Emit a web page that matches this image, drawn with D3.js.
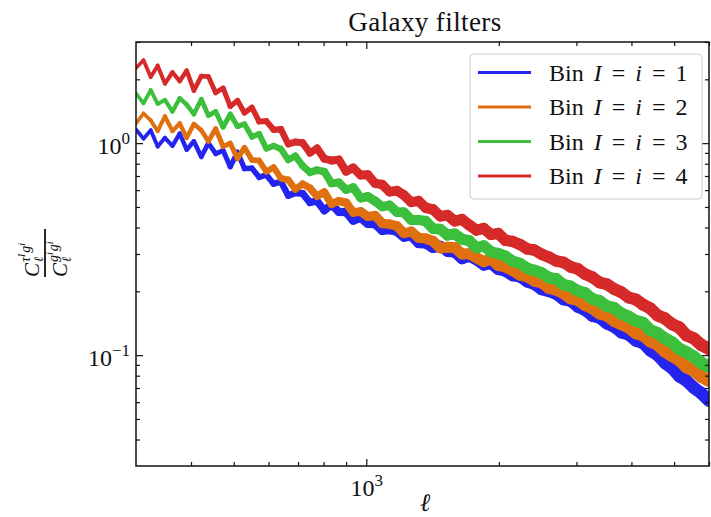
<!DOCTYPE html>
<html lang="en">
<head>
<meta charset="UTF-8">
<script src="https://cdn.jsdelivr.net/npm/d3@7"></script>
<title>Galaxy filters</title>
<style>
  body { margin: 0; background: #fff; }
  svg text { font-family: "Liberation Serif", "DejaVu Serif", serif; fill: #111; }
</style>
</head>
<body>
<svg id="chart" width="711" height="517"></svg>
<script>
// multipoles (log-spaced)
var ell = [300, 312, 324, 336, 349, 363, 377, 391, 406, 422, 438, 455, 473, 491, 510, 529,
  550, 571, 593, 616, 640, 665, 690, 717, 745, 773, 803, 834, 866, 900, 934, 971, 1008,
  1047, 1087, 1129, 1173, 1218, 1265, 1314, 1365, 1417, 1472, 1529, 1588, 1649, 1713,
  1779, 1848, 1919, 1993, 2070, 2150, 2233, 2319, 2409, 2502, 2598, 2699, 2803, 2911,
  3023, 3140, 3261, 3387, 3518, 3654, 3795, 3941, 4093, 4251, 4415, 4586, 4763, 4947,
  5138, 5336, 5542, 5756, 6000];

var bin1 = [1.16, 1.05, 1.15, 0.964, 1.06, 0.971, 1.11, 0.931, 1.02, 0.862, 1.00, 0.892,
  0.924, 0.774, 0.906, 0.759, 0.762, 0.691, 0.708, 0.643, 0.658, 0.566, 0.583, 0.579,
  0.525, 0.533, 0.481, 0.513, 0.474, 0.473, 0.432, 0.446, 0.418, 0.417, 0.388, 0.391,
  0.385, 0.361, 0.367, 0.338, 0.337, 0.321, 0.327, 0.308, 0.306, 0.285, 0.293, 0.282,
  0.266, 0.271, 0.254, 0.249, 0.237, 0.234, 0.222, 0.216, 0.204, 0.200, 0.194, 0.183,
  0.180, 0.169, 0.163, 0.153, 0.150, 0.141, 0.136, 0.128, 0.125, 0.117, 0.114, 0.105,
  0.100, 0.0919, 0.0868, 0.0795, 0.0757, 0.0702, 0.0663, 0.0610];

var bin2 = [1.24, 1.38, 1.28, 1.14, 1.34, 1.14, 1.24, 1.06, 1.23, 1.15, 1.02, 1.17, 0.964,
  0.999, 0.846, 0.952, 0.833, 0.827, 0.734, 0.769, 0.683, 0.671, 0.606, 0.642, 0.613,
  0.562, 0.587, 0.516, 0.533, 0.524, 0.471, 0.476, 0.451, 0.456, 0.418, 0.415, 0.407,
  0.376, 0.383, 0.358, 0.355, 0.345, 0.320, 0.323, 0.322, 0.300, 0.301, 0.288, 0.276,
  0.285, 0.265, 0.261, 0.251, 0.239, 0.235, 0.224, 0.220, 0.207, 0.203, 0.196, 0.185,
  0.182, 0.172, 0.166, 0.157, 0.154, 0.145, 0.140, 0.135, 0.127, 0.124, 0.116, 0.112,
  0.104, 0.0991, 0.0945, 0.0876, 0.0849, 0.0793, 0.0758];

var bin3 = [1.72, 1.54, 1.78, 1.53, 1.60, 1.41, 1.63, 1.52, 1.37, 1.61, 1.35, 1.41, 1.19,
  1.37, 1.20, 1.23, 1.071, 1.106, 0.943, 0.970, 0.938, 0.834, 0.870, 0.782, 0.728, 0.746,
  0.733, 0.647, 0.652, 0.603, 0.618, 0.551, 0.560, 0.533, 0.502, 0.509, 0.473, 0.472,
  0.434, 0.434, 0.429, 0.395, 0.393, 0.368, 0.373, 0.352, 0.347, 0.321, 0.328, 0.307,
  0.302, 0.293, 0.277, 0.271, 0.257, 0.251, 0.244, 0.232, 0.229, 0.215, 0.211, 0.201,
  0.196, 0.184, 0.180, 0.170, 0.167, 0.157, 0.152, 0.145, 0.142, 0.131, 0.127, 0.120,
  0.115, 0.107, 0.103, 0.0983, 0.0920, 0.0883];

var bin4 = [2.26, 2.46, 2.05, 2.32, 1.91, 2.16, 1.96, 2.20, 1.77, 2.07, 2.06, 1.73, 1.82,
  1.49, 1.59, 1.39, 1.473, 1.265, 1.270, 1.156, 1.163, 0.990, 1.013, 1.004, 0.899, 0.946,
  0.844, 0.828, 0.836, 0.735, 0.765, 0.707, 0.709, 0.646, 0.638, 0.590, 0.597, 0.568,
  0.527, 0.534, 0.495, 0.487, 0.452, 0.457, 0.429, 0.437, 0.411, 0.389, 0.396, 0.371,
  0.375, 0.348, 0.344, 0.333, 0.317, 0.313, 0.299, 0.290, 0.278, 0.274, 0.261, 0.255,
  0.241, 0.233, 0.220, 0.216, 0.205, 0.198, 0.187, 0.183, 0.173, 0.166, 0.154, 0.149,
  0.140, 0.135, 0.124, 0.120, 0.112, 0.107];

var binLabels = ["1", "2", "3", "4"];
var binValues = [bin1, bin2, bin3, bin4];
var colors = ["#2424ee", "#e0700f", "#3cbf3c", "#d62a2a"];

var xMinor = [400, 500, 600, 700, 800, 900, 2000, 3000, 4000, 5000, 6000];
var xMajor = [1000];
var yMajor = [0.1, 1];
var yMinor = [0.04, 0.05, 0.06, 0.07, 0.08, 0.09, 0.2, 0.3, 0.4, 0.5, 0.6, 0.7, 0.8, 0.9, 2, 3];

var svg = d3.select("#chart");
var pL = 136, pR = 709, pT = 42, pB = 466;

var x = d3.scaleLog().domain([300, 6000]).range([pL, pR]);
var y = d3.scaleLog().domain([0.03, 3]).range([pB, pT]);

// the scatter band thickens toward high multipoles
var bandWidth = d3.scaleLog().domain([300, 550, 1000, 1600, 6000])
  .range([3.6, 5.5, 9, 11, 12.5]).clamp(true);

svg.append("defs").append("clipPath").attr("id", "plotclip")
  .append("rect").attr("x", pL).attr("y", pT)
  .attr("width", pR - pL).attr("height", pB - pT);

// curves, segment by segment so the stroke can widen with ell
var curves = svg.append("g").attr("clip-path", "url(#plotclip)");
binValues.forEach(function(vals, i) {
  var pts = ell.map(function(l, k) { return [l, vals[k]]; });
  curves.append("g").selectAll("line")
    .data(d3.pairs(pts))
    .join("line")
    .attr("x1", function(d) { return x(d[0][0]); })
    .attr("y1", function(d) { return y(d[0][1]); })
    .attr("x2", function(d) { return x(d[1][0]); })
    .attr("y2", function(d) { return y(d[1][1]); })
    .attr("stroke", colors[i])
    .attr("stroke-linecap", "round")
    .attr("stroke-width", function(d) { return bandWidth(Math.sqrt(d[0][0] * d[1][0])); });
});

// ticks point inward on all four sides
function axisGroup(axis, tx, ty) {
  var g = svg.append("g").attr("transform", "translate(" + tx + "," + ty + ")").call(axis);
  g.select(".domain").remove();
  g.selectAll("line").attr("stroke", "#111").attr("stroke-width", 1.2);
  return g;
}
axisGroup(d3.axisBottom(x).tickValues(xMinor).tickSize(-4).tickFormat(""), 0, pB);
axisGroup(d3.axisTop(x).tickValues(xMinor).tickSize(-4).tickFormat(""), 0, pT);
axisGroup(d3.axisTop(x).tickValues(xMajor).tickSize(-7).tickFormat(""), 0, pT);
axisGroup(d3.axisLeft(y).tickValues(yMinor).tickSize(-4).tickFormat(""), pL, 0);
axisGroup(d3.axisRight(y).tickValues(yMinor).tickSize(-4).tickFormat(""), pR, 0);
axisGroup(d3.axisRight(y).tickValues(yMajor).tickSize(-7).tickFormat(""), pR, 0);

function powLabel(t, p) {
  t.append("tspan").text("10");
  t.append("tspan").attr("font-size", 17).attr("dy", "-0.6em")
    .text(p < 0 ? "\u2212" + (-p) : p);
}

var xb = axisGroup(d3.axisBottom(x).tickValues(xMajor).tickSize(-7).tickPadding(13), 0, pB);
xb.selectAll("text").text(null).attr("font-size", 24)
  .each(function(d) { powLabel(d3.select(this), Math.round(Math.log10(d))); });

var yl = axisGroup(d3.axisLeft(y).tickValues(yMajor).tickSize(-7).tickPadding(6), pL, 0);
yl.selectAll("text").text(null).attr("font-size", 24).attr("dy", "0.42em")
  .each(function(d) { powLabel(d3.select(this), Math.round(Math.log10(d))); });

// frame
svg.append("rect").attr("x", pL).attr("y", pT)
  .attr("width", pR - pL).attr("height", pB - pT)
  .attr("fill", "none").attr("stroke", "#111").attr("stroke-width", 1.5);

// title and axis labels
svg.append("text").attr("x", 425).attr("y", 31).attr("text-anchor", "middle")
  .attr("font-size", 27).attr("letter-spacing", 0.4).text("Galaxy filters");

svg.append("text").attr("x", 425).attr("y", 511).attr("text-anchor", "middle")
  .attr("font-size", 25).attr("font-style", "italic").text("\u2113");

// y label: fraction of two spectra, rotated
var yLab = svg.append("g").attr("transform", "translate(45,253) rotate(-90)");
yLab.append("line").attr("x1", -24).attr("x2", 24).attr("y1", 0).attr("y2", 0)
  .attr("stroke", "#111").attr("stroke-width", 1.8);
function spectrum(g, base, sup) {
  g.append("text").attr("x", -24).attr("y", base).attr("font-size", 21)
    .attr("font-style", "italic").text("C");
  g.append("text").attr("x", -9).attr("y", base + 4).attr("font-size", 13)
    .attr("font-style", "italic").text("\u2113");
  var t = g.append("text").attr("x", -9).attr("y", base - 9).attr("font-size", 14)
    .attr("font-style", "italic");
  sup.forEach(function(p, k) {
    t.append("tspan").attr("dy", k ? 5 : 0).attr("dx", k ? 1 : 0).text(p[0]);
    t.append("tspan").attr("font-size", 10).attr("dy", -5).text(p[1]);
  });
}
spectrum(yLab, -6, [["\u03c4", "I"], ["g", "i"]]);
spectrum(yLab, 22, [["g", "i"], ["g", "i"]]);

// legend
var leg = svg.append("g");
leg.append("rect").attr("x", 470).attr("y", 54).attr("width", 232).attr("height", 145)
  .attr("rx", 4).attr("fill", "#fff").attr("fill-opacity", 0.85)
  .attr("stroke", "#cccccc").attr("stroke-width", 1);
binLabels.forEach(function(b, i) {
  var yy = 72.5 + i * 34.5;
  leg.append("line").attr("x1", 478).attr("x2", 531).attr("y1", yy).attr("y2", yy)
    .attr("stroke", colors[i]).attr("stroke-width", 3);
  var t = leg.append("text").attr("x", 549).attr("y", yy + 8).attr("font-size", 24);
  t.append("tspan").text("Bin");
  t.append("tspan").attr("dx", 10).attr("font-style", "italic").text("I");
  t.append("tspan").attr("dx", 10).text("=");
  t.append("tspan").attr("dx", 10).attr("font-style", "italic").text("i");
  t.append("tspan").attr("dx", 10).text("=");
  t.append("tspan").attr("dx", 10).text(b);
});
</script>
</body>
</html>
